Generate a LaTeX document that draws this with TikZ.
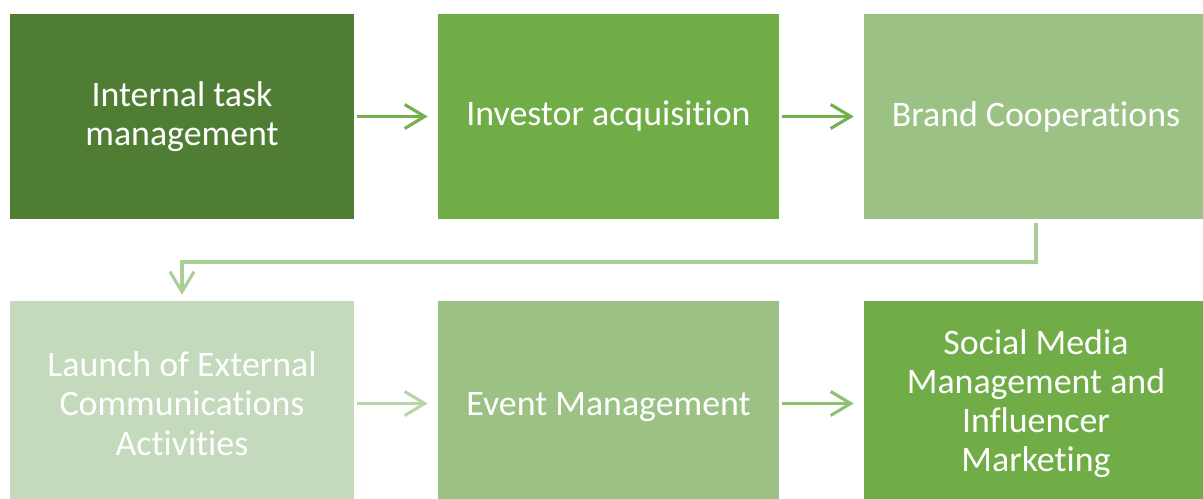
\documentclass[tikz,border=0pt]{standalone}
\usepackage{fontspec}
\setmainfont{Carlito}[Ligatures=NoCommon]
\usetikzlibrary{arrows.meta}
\definecolor{darkgreen}{HTML}{4F7D33}
\definecolor{midgreen}{HTML}{70AD47}
\definecolor{softgreen}{HTML}{9BC284}
\definecolor{palegreen}{HTML}{C5D9BC}
\definecolor{arrowA}{HTML}{74B04C}
\definecolor{arrowB}{HTML}{A9CE96}
\definecolor{arrowC}{HTML}{B8D6A8}
\definecolor{arrowD}{HTML}{8DC172}
\tikzset{
  stage/.style = {minimum width = 8.6cm, minimum height = 5.125cm, inner sep = 0pt,
                  align = center, text = white,
                  font = \fontsize{25.5}{27.9}\selectfont},
  flow/.style = {line width = 2.2pt, shorten <= 0.075cm, shorten >= 0.25cm,
                 -{Straight Barb[length = 0.5cm, width = 0.6cm]}}
}
\begin{document}
\begin{tikzpicture}[x = 0.025cm, y = -0.025cm]
		\useasboundingbox (0,0) rectangle (1203,499);
		\clip (0,0) rectangle (1203,499);
		
		% top row
		\node (task) at (182,116.5) [stage, fill = darkgreen] {Internal task\\management};
		\node (invest) at (608.5,116.5) [stage, fill = midgreen, minimum width = 8.525cm] {Investor acquisition};
		\node (brand) at (1036,116.5) [stage, fill = softgreen] {Brand Cooperations};
		
		\draw [flow, arrowA] (task) -- (invest);
		\draw [flow, arrowA] (invest) -- (brand);
		
		% bottom row
		\node (launch) at (182,403.5) [stage, fill = palegreen] {Launch of External\\Communications\\Activities};
		\node (event) at (608.5,403.5) [stage, fill = softgreen, minimum width = 8.525cm] {\raisebox{-0.1cm}[\height][\depth]{Event Management}};
		\node (social) at (1036,403.5) [stage, fill = midgreen] {Social Media\\Management and\\Influencer\\Marketing};
		
		\coordinate (turn) at (610,262);
		\draw [flow, arrowB, shorten <= 0.1cm, shorten >= 0.15cm] (brand.south) |- (turn) -| (launch.north);
		\draw [flow, arrowC] (launch) -- (event);
		\draw [flow, arrowD] (event) -- (social);
\end{tikzpicture}
\end{document}
